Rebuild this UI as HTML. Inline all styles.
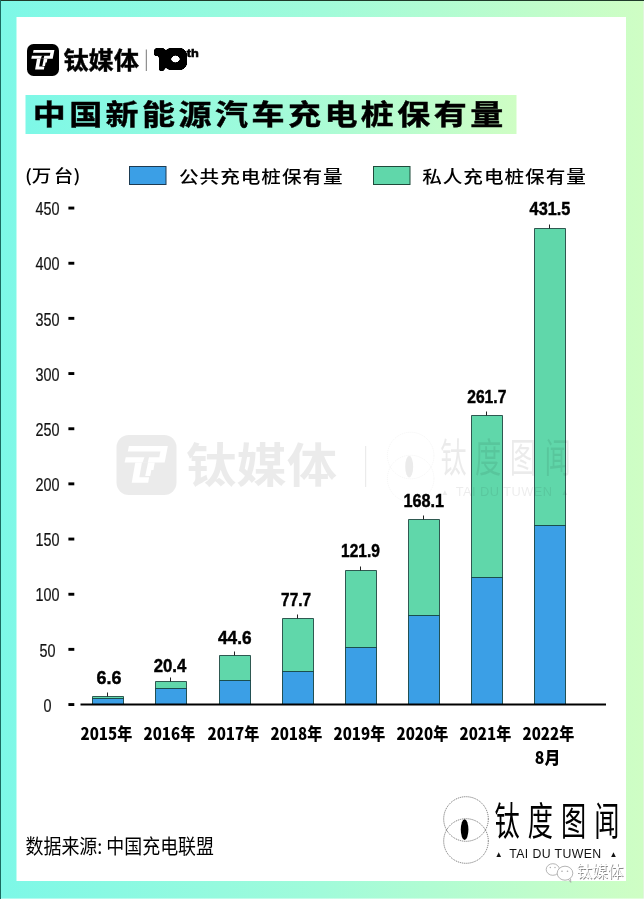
<!DOCTYPE html>
<html lang="zh-CN"><head><meta charset="utf-8"><title>中国新能源汽车充电桩保有量</title>
<style>
html,body{margin:0;padding:0;background:#fff}
body{width:644px;height:899px;overflow:hidden}
svg{display:block}
text{font-family:"Liberation Sans","Noto Sans CJK SC",sans-serif}
.n{font-family:"Noto Sans CJK SC","Liberation Sans",sans-serif}
.v{font-weight:700;font-size:18.7px;fill:#000;stroke:#000;stroke-width:.45px;text-anchor:middle}
.yl{font-size:18px;fill:#111;stroke:#111;stroke-width:.2px;text-anchor:middle}
.xl{font-weight:900;font-size:16.5px;fill:#000;text-anchor:middle}
</style></head><body>
<svg width="644" height="899" viewBox="0 0 644 899">
<defs>
<linearGradient id="g" x1="0" y1="0" x2="1" y2="0"><stop offset="0" stop-color="#7df8e7"/><stop offset="0.5" stop-color="#a1fbda"/><stop offset="1" stop-color="#cffec4"/></linearGradient>
<filter id="fat" x="-30%" y="-50%" width="160%" height="200%" color-interpolation-filters="sRGB"><feComponentTransfer><feFuncA type="linear" slope="4" intercept="0"/></feComponentTransfer><feMorphology operator="dilate" radius="2 3"/><feGaussianBlur stdDeviation="1.1"/><feComponentTransfer><feFuncA type="linear" slope="6" intercept="-2.5"/></feComponentTransfer></filter>
<clipPath id="c1"><rect x="140" y="40" width="30" height="27.4"/></clipPath>
<g id="tmt">
<rect x="0" y="0" width="32" height="32" rx="6.5" ry="6.5"/>
<g fill="#fff" class="w">
<polygon points="6.6,5.9 27.4,5.9 25.7,14.7 4.3,14.7 4.9,11.8 22.8,11.8 23.4,8.8 6.0,8.8"/>
<polygon points="10.0,14.7 13.6,14.7 12.2,22.5 17.4,22.5 16.9,25.4 8.1,25.4"/>
<polygon points="16.8,14.7 20.4,14.7 19.7,18.6 18.6,18.6 18.0,21.9 15.3,21.9"/>
</g>
<polygon points="15.0,11.6 17.4,11.6 16.6,14.8 13.8,14.8" fill="#000" class="k"/>
</g>
</defs>
<rect width="644" height="899" fill="url(#g)"/>
<rect x="0" y="0" width="644" height="1" fill="#1f3a2a"/>
<rect x="0" y="0" width="1" height="899" fill="#1a6a60"/>
<rect x="16.5" y="17" width="609.5" height="864" fill="#fff"/>
<rect x="643" y="1" width="1" height="898" fill="#e0f6dc"/>
<rect x="1" y="898" width="643" height="1" fill="#fff" fill-opacity=".4"/>

<use href="#tmt" x="27" y="44" fill="#000"/>
<text class="n" x="63.4" y="69" font-size="23.5" font-weight="700" stroke="#000" stroke-width="0.4" textLength="75.5" lengthAdjust="spacingAndGlyphs">钛媒体</text>
<rect x="145.8" y="49.5" width="1" height="21.5" fill="#777"/>
<g filter="url(#fat)"><g clip-path="url(#c1)"><text class="n" font-size="22" font-weight="100" text-anchor="middle" transform="translate(161,69.3) scale(1.6,1.12)">1</text></g><text class="n" font-size="22" font-weight="100" text-anchor="middle" transform="translate(175.5,67.3) scale(2.05,1)">0</text></g>
<text x="186.8" y="56.8" font-size="10" font-weight="700" textLength="12" lengthAdjust="spacingAndGlyphs" stroke="#000" stroke-width="0.6">th</text>
<rect x="25.5" y="95" width="491" height="39" fill="url(#g)"/>
<text class="n" transform="translate(32.7,124.6) scale(1.10,0.95)" font-size="30" font-weight="700" letter-spacing="3.15" stroke="#000" stroke-width="0.45">中国新能源汽车充电桩保有量</text>
<text class="n" transform="scale(1.15,1)" x="21.7 27.7 46.7 63.9" y="182.2" font-size="17" font-weight="500">(万台)</text>
<rect x="129.5" y="166.5" width="36.5" height="18" fill="#3b9fe6" stroke="#1d3b52" stroke-width="1"/>
<text class="n" transform="translate(179,182.9) scale(1.12,1)" font-size="17.5" font-weight="500" letter-spacing="0.89">公共充电桩保有量</text>
<rect x="373.5" y="166.5" width="36.5" height="18" fill="#60d7aa" stroke="#1f4a3a" stroke-width="1"/>
<text class="n" transform="translate(422.2,182.9) scale(1.12,1)" font-size="17.5" font-weight="500" letter-spacing="0.89">私人充电桩保有量</text>
<text class="yl" x="47.4" y="711.7" textLength="8" lengthAdjust="spacingAndGlyphs">0</text>
<rect x="68.4" y="703.1" width="5.9" height="2.9" fill="#000"/>
<text class="yl" x="47.4" y="656.5" textLength="16" lengthAdjust="spacingAndGlyphs">50</text>
<rect x="68.4" y="647.9" width="5.9" height="2.9" fill="#000"/>
<text class="yl" x="47.4" y="601.4" textLength="24" lengthAdjust="spacingAndGlyphs">100</text>
<rect x="68.4" y="592.8" width="5.9" height="2.9" fill="#000"/>
<text class="yl" x="47.4" y="546.2" textLength="24" lengthAdjust="spacingAndGlyphs">150</text>
<rect x="68.4" y="537.6" width="5.9" height="2.9" fill="#000"/>
<text class="yl" x="47.4" y="491.0" textLength="24" lengthAdjust="spacingAndGlyphs">200</text>
<rect x="68.4" y="482.4" width="5.9" height="2.9" fill="#000"/>
<text class="yl" x="47.4" y="435.9" textLength="24" lengthAdjust="spacingAndGlyphs">250</text>
<rect x="68.4" y="427.3" width="5.9" height="2.9" fill="#000"/>
<text class="yl" x="47.4" y="380.7" textLength="24" lengthAdjust="spacingAndGlyphs">300</text>
<rect x="68.4" y="372.1" width="5.9" height="2.9" fill="#000"/>
<text class="yl" x="47.4" y="325.5" textLength="24" lengthAdjust="spacingAndGlyphs">350</text>
<rect x="68.4" y="316.9" width="5.9" height="2.9" fill="#000"/>
<text class="yl" x="47.4" y="270.4" textLength="24" lengthAdjust="spacingAndGlyphs">400</text>
<rect x="68.4" y="261.8" width="5.9" height="2.9" fill="#000"/>
<text class="yl" x="47.4" y="215.2" textLength="24" lengthAdjust="spacingAndGlyphs">450</text>
<rect x="68.4" y="206.6" width="5.9" height="2.9" fill="#000"/>
<rect x="92.5" y="696.5" width="31" height="8.0" fill="#60d7aa"/>
<rect x="92.5" y="698.5" width="31" height="6.0" fill="#3b9fe6"/>
<path d="M92.5,704.5 V696.5 H123.5 V704.5 M92.5,698.5 H123.5" fill="none" stroke="#0b2f2c" stroke-width="1" stroke-opacity=".78"/>
<rect x="107.0" y="692.5" width="1" height="4" fill="#222"/>
<text class="v" x="108.95" y="683.9" textLength="24.9" lengthAdjust="spacingAndGlyphs">6.6</text>
<text class="xl n" x="106.4" y="740.3" textLength="51.8" lengthAdjust="spacingAndGlyphs">2015年</text>
<rect x="155.5" y="681.5" width="31" height="23.0" fill="#60d7aa"/>
<rect x="155.5" y="688.5" width="31" height="16.0" fill="#3b9fe6"/>
<path d="M155.5,704.5 V681.5 H186.5 V704.5 M155.5,688.5 H186.5" fill="none" stroke="#0b2f2c" stroke-width="1" stroke-opacity=".78"/>
<rect x="170.0" y="677.5" width="1" height="4" fill="#222"/>
<text class="v" x="170" y="672.4" textLength="32.6" lengthAdjust="spacingAndGlyphs">20.4</text>
<text class="xl n" x="169.4" y="740.3" textLength="51.8" lengthAdjust="spacingAndGlyphs">2016年</text>
<rect x="219.5" y="655.5" width="31" height="49.0" fill="#60d7aa"/>
<rect x="219.5" y="680.5" width="31" height="24.0" fill="#3b9fe6"/>
<path d="M219.5,704.5 V655.5 H250.5 V704.5 M219.5,680.5 H250.5" fill="none" stroke="#0b2f2c" stroke-width="1" stroke-opacity=".78"/>
<rect x="234.0" y="651.5" width="1" height="4" fill="#222"/>
<text class="v" x="234.8" y="643.9" textLength="33.6" lengthAdjust="spacingAndGlyphs">44.6</text>
<text class="xl n" x="233.4" y="740.3" textLength="51.8" lengthAdjust="spacingAndGlyphs">2017年</text>
<rect x="282.5" y="618.5" width="31" height="86.0" fill="#60d7aa"/>
<rect x="282.5" y="671.5" width="31" height="33.0" fill="#3b9fe6"/>
<path d="M282.5,704.5 V618.5 H313.5 V704.5 M282.5,671.5 H313.5" fill="none" stroke="#0b2f2c" stroke-width="1" stroke-opacity=".78"/>
<rect x="297.0" y="614.5" width="1" height="4" fill="#222"/>
<text class="v" x="296.05" y="605.5" textLength="29.9" lengthAdjust="spacingAndGlyphs">77.7</text>
<text class="xl n" x="296.4" y="740.3" textLength="51.8" lengthAdjust="spacingAndGlyphs">2018年</text>
<rect x="345.5" y="570.5" width="31" height="134.0" fill="#60d7aa"/>
<rect x="345.5" y="647.5" width="31" height="57.0" fill="#3b9fe6"/>
<path d="M345.5,704.5 V570.5 H376.5 V704.5 M345.5,647.5 H376.5" fill="none" stroke="#0b2f2c" stroke-width="1" stroke-opacity=".78"/>
<rect x="360.0" y="566.5" width="1" height="4" fill="#222"/>
<text class="v" x="360.5" y="557.3" textLength="38.8" lengthAdjust="spacingAndGlyphs">121.9</text>
<text class="xl n" x="359.4" y="740.3" textLength="51.8" lengthAdjust="spacingAndGlyphs">2019年</text>
<rect x="408.5" y="519.5" width="31" height="185.0" fill="#60d7aa"/>
<rect x="408.5" y="615.5" width="31" height="89.0" fill="#3b9fe6"/>
<path d="M408.5,704.5 V519.5 H439.5 V704.5 M408.5,615.5 H439.5" fill="none" stroke="#0b2f2c" stroke-width="1" stroke-opacity=".78"/>
<rect x="423.0" y="515.5" width="1" height="4" fill="#222"/>
<text class="v" x="423.7" y="507.1" textLength="40.6" lengthAdjust="spacingAndGlyphs">168.1</text>
<text class="xl n" x="422.4" y="740.3" textLength="51.8" lengthAdjust="spacingAndGlyphs">2020年</text>
<rect x="471.5" y="415.5" width="31" height="289.0" fill="#60d7aa"/>
<rect x="471.5" y="577.5" width="31" height="127.0" fill="#3b9fe6"/>
<path d="M471.5,704.5 V415.5 H502.5 V704.5 M471.5,577.5 H502.5" fill="none" stroke="#0b2f2c" stroke-width="1" stroke-opacity=".78"/>
<rect x="486.0" y="411.5" width="1" height="4" fill="#222"/>
<text class="v" x="486.8" y="403.3" textLength="39.2" lengthAdjust="spacingAndGlyphs">261.7</text>
<text class="xl n" x="485.4" y="740.3" textLength="51.8" lengthAdjust="spacingAndGlyphs">2021年</text>
<rect x="534.5" y="228.5" width="31" height="476.0" fill="#60d7aa"/>
<rect x="534.5" y="525.5" width="31" height="179.0" fill="#3b9fe6"/>
<path d="M534.5,704.5 V228.5 H565.5 V704.5 M534.5,525.5 H565.5" fill="none" stroke="#0b2f2c" stroke-width="1" stroke-opacity=".78"/>
<rect x="549.0" y="224.5" width="1" height="4" fill="#222"/>
<text class="v" x="550" y="215.1" textLength="40.8" lengthAdjust="spacingAndGlyphs">431.5</text>
<text class="xl n" x="548.4" y="740.3" textLength="51.8" lengthAdjust="spacingAndGlyphs">2022年</text>
<text class="xl n" x="547.5" y="763.6" style="font-size:17.5px" textLength="25.5" lengthAdjust="spacingAndGlyphs">8月</text>
<rect x="80.5" y="703.5" width="525.5" height="2" fill="#000"/>
<text class="n" x="25.5" y="854" font-size="20" font-weight="400" textLength="188.5" lengthAdjust="spacingAndGlyphs">数据来源: 中国充电联盟</text>
<g id="tdu">
<circle cx="466" cy="819" r="22.3" fill="none" stroke="#000" stroke-width="0.5" stroke-dasharray="1.2 0.8"/>
<circle cx="466" cy="841" r="22.3" fill="none" stroke="#000" stroke-width="0.5" stroke-dasharray="1.2 0.8"/>
<ellipse cx="464.6" cy="829.6" rx="3.8" ry="10.4" fill="#000"/>
<text class="n" transform="translate(494.4,835) scale(0.84,1.28)" font-size="30" font-weight="400" letter-spacing="9.6">钛度图闻</text>
<text y="857.8" font-size="12.3" fill="#111"><tspan x="494.8" dy="-1" font-size="8">▲</tspan><tspan x="509.2" dy="1" textLength="92" lengthAdjust="spacing">TAI DU TUWEN</tspan><tspan x="609.6" dy="-1" font-size="8">▲</tspan></text>
</g>
<g fill="none" stroke="#a2a2a2" stroke-width="0.8">
<ellipse cx="552.8" cy="869.5" rx="6.6" ry="5.8"/>
<ellipse cx="565" cy="873.2" rx="7.8" ry="7" fill="#fff"/>
<path d="M568.5,879.6 l2.3,2.8 l-0.3,-3.8"/>
</g>
<circle cx="562" cy="871.3" r="0.8" fill="#aaa"/><circle cx="567.5" cy="871.3" r="0.8" fill="#aaa"/>
<circle cx="550.3" cy="867.5" r="0.7" fill="#aaa"/><circle cx="555" cy="867.5" r="0.7" fill="#aaa"/>
<text class="n" x="577.3" y="877.6" font-size="16" font-weight="400" fill="#8a8a8a" textLength="47" lengthAdjust="spacingAndGlyphs">钛媒体</text>
<text class="n" x="576.5" y="876.8" font-size="16" font-weight="400" fill="#fff" textLength="47" lengthAdjust="spacingAndGlyphs">钛媒体</text>
<g opacity="0.075">
<g transform="translate(116.5,435) scale(1.875)"><use href="#tmt" fill="#000"/></g>
<text class="n" x="186" y="482" font-size="47" font-weight="700" textLength="151" lengthAdjust="spacingAndGlyphs">钛媒体</text>
<rect x="365" y="446" width="1.2" height="41" fill="#000"/>
</g>
<use href="#tdu" transform="translate(-76.3,-400.3) scale(1.045)" opacity="0.075"/>
</svg></body></html>
